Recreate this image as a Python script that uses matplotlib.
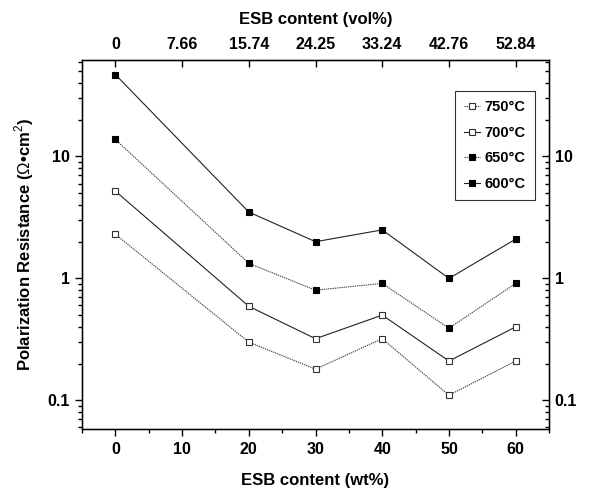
import matplotlib
matplotlib.use("Agg")
import matplotlib.pyplot as plt
from matplotlib.ticker import FixedLocator, LogLocator, NullFormatter, FixedFormatter, MultipleLocator

plt.rcParams['font.family'] = ['Liberation Sans', 'DejaVu Sans']
plt.rcParams['mathtext.fontset'] = 'custom'
plt.rcParams['mathtext.rm'] = 'Liberation Sans'
plt.rcParams['mathtext.bf'] = 'Liberation Sans:bold'

wt = [0, 20, 30, 40, 50, 60]
r750 = [2.3, 0.30, 0.18, 0.32, 0.11, 0.21]
r700 = [5.2, 0.59, 0.32, 0.50, 0.21, 0.40]
r650 = [13.8, 1.33, 0.80, 0.91, 0.39, 0.91]
r600 = [47, 3.5, 2.0, 2.5, 1.0, 2.1]

top_ticks = [0, 10, 20, 30, 40, 50, 60]
top_labels = ['0', '7.66', '15.74', '24.25', '33.24', '42.76', '52.84']
y_major = [0.1, 1, 10]
y_labels = ['0.1', '1', '10']

fig = plt.figure(figsize=(6.14, 4.91), dpi=100)
ax = fig.add_axes([0.1336, 0.126, 0.7606, 0.752])

lw = 0.8
ms = 4.5
ax.plot(wt, r750, linestyle=(0, (1.2, 0.8)), color='#444444', lw=lw, marker='s', ms=ms,
        mfc='white', mec='#333333', mew=0.8, label='750°C')
ax.plot(wt, r700, linestyle='-', color='#222222', lw=lw, marker='s', ms=ms,
        mfc='white', mec='#333333', mew=0.8, label='700°C')
ax.plot(wt, r650, linestyle=(0, (1.2, 0.8)), color='#444444', lw=lw, marker='s', ms=ms,
        mfc='black', mec='black', mew=0.8, label='650°C')
ax.plot(wt, r600, linestyle='-', color='#222222', lw=lw, marker='s', ms=ms,
        mfc='black', mec='black', mew=0.8, label='600°C')

ax.set_yscale('log')
ax.set_xlim(-5, 65)
ax.set_ylim(0.058, 62)

ax.xaxis.set_major_locator(MultipleLocator(10))
ax.xaxis.set_minor_locator(MultipleLocator(5))
ax.yaxis.set_major_locator(FixedLocator(y_major))
ax.yaxis.set_major_formatter(FixedFormatter(y_labels))
ax.yaxis.set_minor_locator(LogLocator(base=10, subs=range(2, 10)))
ax.yaxis.set_minor_formatter(NullFormatter())

ax.tick_params(axis='both', which='major', direction='out', length=5, width=1,
               labelsize=11.5, pad=4)
ax.tick_params(axis='both', which='minor', direction='out', length=3, width=1)
for lab in ax.get_xticklabels() + ax.get_yticklabels():
    lab.set_fontweight('bold')

for s in ax.spines.values():
    s.set_linewidth(1.0)

ax.set_xlabel('ESB content (wt%)', fontsize=12, fontweight='bold', labelpad=12)
ax.set_ylabel(r'Polarization Resistance ($\Omega$•cm$^2$)', fontsize=12,
              fontweight='bold', labelpad=8)

# top axis
axt = ax.twiny()
axt.set_xlim(ax.get_xlim())
axt.xaxis.set_major_locator(FixedLocator(top_ticks))
axt.xaxis.set_major_formatter(FixedFormatter(top_labels))
axt.tick_params(axis='x', which='major', direction='in', length=5, width=1,
                labelsize=11.5, pad=6)
for lab in axt.get_xticklabels():
    lab.set_fontweight('bold')
axt.set_xlabel('ESB content (vol%)', fontsize=12, fontweight='bold', labelpad=9)

# right axis
axr = ax.twinx()
axr.set_yscale('log')
axr.set_ylim(ax.get_ylim())
axr.yaxis.set_major_locator(FixedLocator(y_major))
axr.yaxis.set_major_formatter(FixedFormatter(y_labels))
axr.yaxis.set_minor_locator(LogLocator(base=10, subs=range(2, 10)))
axr.yaxis.set_minor_formatter(NullFormatter())
axr.tick_params(axis='y', which='major', direction='in', length=5, width=1,
                labelsize=11.5, pad=4)
axr.tick_params(axis='y', which='minor', direction='in', length=3, width=1)
for lab in axr.get_yticklabels():
    lab.set_fontweight('bold')

leg = ax.legend(loc='upper right', bbox_to_anchor=(0.985, 0.935), fontsize=10.5,
                frameon=True, fancybox=False, edgecolor='black', handlelength=1.1,
                handletextpad=0.35, labelspacing=0.8, borderpad=0.6)
leg.get_frame().set_linewidth(0.8)
for t in leg.get_texts():
    t.set_fontweight('bold')

fig.savefig('out.png', dpi=100)
